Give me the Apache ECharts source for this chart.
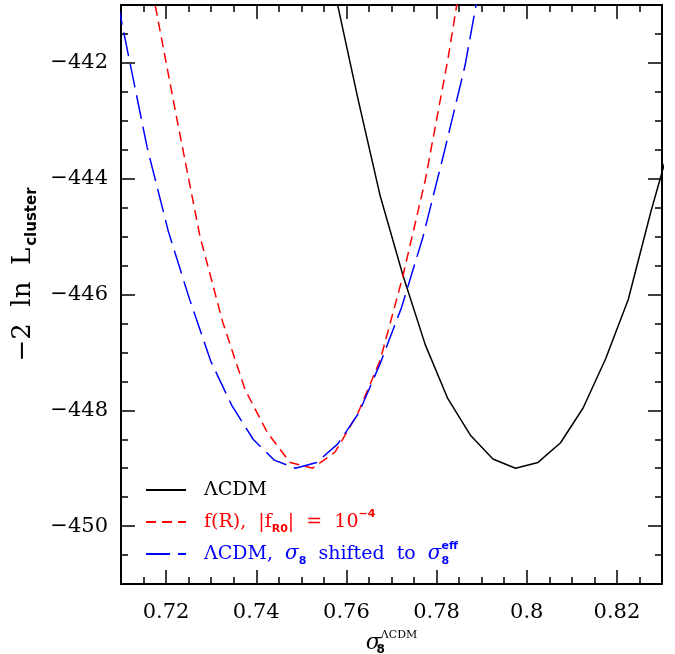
<!DOCTYPE html>
<html><head><meta charset="utf-8">
<script src="https://cdn.jsdelivr.net/npm/echarts@6/dist/echarts.min.js"></script>
<style>html,body{margin:0;padding:0;background:#fff}#c{width:675px;height:654px}</style>
</head><body><div id="c"></div>
<script>
// ---- data ----
const lcdmX = [0.7575, 0.7625, 0.7675, 0.7725, 0.7775, 0.7825, 0.7875, 0.7925, 0.7975, 0.8025, 0.8075, 0.8125, 0.8175, 0.8225, 0.8275, 0.8325];
const lcdmY = [-440.80, -442.60, -444.30, -445.66, -446.87, -447.80, -448.43, -448.84, -449.00, -448.90, -448.56, -447.96, -447.11, -446.09, -444.58, -443.20];

const fRX = [0.7125, 0.7175, 0.7225, 0.7275, 0.7325, 0.7375, 0.7425, 0.7475, 0.7525, 0.7575, 0.7625, 0.7675, 0.7725, 0.7775, 0.7825, 0.7875];
const fRY = [-438.84, -440.97, -443.01, -444.99, -446.46, -447.64, -448.39, -448.90, -449.00, -448.72, -448.06, -447.13, -445.69, -444.02, -441.94, -439.56];

const shiftX = [0.7064, 0.7111, 0.7158, 0.7205, 0.7252, 0.7299, 0.7346, 0.7393, 0.7440, 0.7487, 0.7534, 0.7581, 0.7628, 0.7675, 0.7722, 0.7769, 0.7816, 0.7863, 0.7910];
const shiftY = [-439.85, -441.66, -443.46, -444.91, -446.08, -447.15, -447.92, -448.50, -448.86, -449.00, -448.90, -448.58, -448.04, -447.19, -446.23, -445.03, -443.57, -442.05, -440.04];

const xMajorTicks = [0.72, 0.74, 0.76, 0.78, 0.80, 0.82];
const xTickLabels = ['0.72', '0.74', '0.76', '0.78', '0.8', '0.82'];
const yMajorTicks = [-450, -448, -446, -444, -442];
const yTickLabels = ['\u2212450', '\u2212448', '\u2212446', '\u2212444', '\u2212442'];

const seriesNames = ['lcdm', 'fr', 'shift'];
const legendTexts = {
  lcdm: '{g| }{t|\u039bCDM}',
  fr: '{g| }{t|f(R),  |f}{sub|R0}{t||  =  10}{sup|\u22124}',
  shift: '{g| }{t|\u039bCDM,  }{it|\u03c3}{sub|8}{t|  shifted  to  }{it|\u03c3}{subz|8}{sup|eff}'
};

// ---- chart ----
const serif = 'DejaVu Serif';
const sans = 'DejaVu Sans';
const X0 = 0.71, X1 = 0.83, Y0 = -451, Y1 = -441;

function pick(vals, labels) {
  return function (v) {
    for (let i = 0; i < vals.length; i++) if (Math.abs(vals[i] - v) < 1e-6) return labels[i];
    return '';
  };
}
const tickLine = {color: '#000', width: 1.5};

function majorX(pos, withLabel) {
  return {
    type: 'value', position: pos, min: X0, max: X1,
    axisLine: {show: true, onZero: false, lineStyle: {color: '#000', width: 2}},
    axisTick: {show: true, inside: true, length: 14, customValues: xMajorTicks, lineStyle: tickLine},
    axisLabel: {show: withLabel, customValues: xMajorTicks, margin: 18, fontFamily: serif, fontSize: 21, color: '#000',
      formatter: pick(xMajorTicks, xTickLabels)},
    splitLine: {show: false}
  };
}
function minorX(pos) {
  return {
    type: 'value', position: pos, min: X0, max: X1, interval: 0.005,
    axisLine: {show: false, onZero: false},
    axisTick: {show: true, inside: true, length: 7, lineStyle: tickLine},
    axisLabel: {show: false}, splitLine: {show: false}
  };
}
function majorY(pos, withLabel) {
  return {
    type: 'value', position: pos, min: Y0, max: Y1,
    axisLine: {show: true, onZero: false, lineStyle: {color: '#000', width: 2}},
    axisTick: {show: true, inside: true, length: 14, customValues: yMajorTicks, lineStyle: tickLine},
    axisLabel: {show: withLabel, customValues: yMajorTicks, margin: 13, fontFamily: serif, fontSize: 21, color: '#000',
      formatter: pick(yMajorTicks, yTickLabels)},
    splitLine: {show: false}
  };
}
function minorY(pos) {
  return {
    type: 'value', position: pos, min: Y0, max: Y1, interval: 0.5,
    axisLine: {show: false, onZero: false},
    axisTick: {show: true, inside: true, length: 7, lineStyle: tickLine},
    axisLabel: {show: false}, splitLine: {show: false}
  };
}

const xb = majorX('bottom', true);
xb.name = '{s|\u03c3}{sub|8}{sup|\u039bCDM}';
xb.nameLocation = 'middle';
xb.nameGap = 46;
xb.nameTextStyle = {
  color: '#000',
  rich: {
    s: {fontFamily: serif, fontStyle: 'italic', fontSize: 22, lineHeight: 26},
    sub: {fontFamily: sans, fontWeight: 'bold', fontSize: 12, width: 0, verticalAlign: 'bottom', lineHeight: 10},
    sup: {fontFamily: serif, fontSize: 11, verticalAlign: 'top', lineHeight: 14}
  }
};

const yl = majorY('left', true);
yl.name = '{m|\u22122  ln  L}{sub|cluster}';
yl.nameLocation = 'middle';
yl.nameGap = 79;
yl.nameRotate = 90;
yl.nameTextStyle = {
  color: '#000',
  padding: [0, 0, 0, 40],
  rich: {
    m: {fontFamily: serif, fontSize: 26, lineHeight: 32},
    sub: {fontFamily: sans, fontWeight: 'bold', fontSize: 15, verticalAlign: 'bottom', lineHeight: 18, padding: [0, 0, 0, 2]}
  }
};

const toPairs = (xs, ys) => xs.map((x, i) => [x, ys[i]]);

const option = {
  animation: false,
  backgroundColor: '#fff',
  grid: {left: 121, right: 13, top: 5, bottom: 70, containLabel: false, outerBoundsMode: 'none'},
  xAxis: [xb, minorX('bottom'), majorX('top', false), minorX('top')],
  yAxis: [yl, minorY('left'), majorY('right', false), minorY('right')],
  legend: {
    orient: 'vertical', left: 145, top: 477, padding: 0,
    itemWidth: 40, itemHeight: 14, itemGap: 6,
    itemStyle: {opacity: 0, borderWidth: 0},
    data: [
      {name: 'lcdm', textStyle: {color: '#000'}},
      {name: 'fr', textStyle: {color: '#ff0000'}},
      {name: 'shift', textStyle: {color: '#0000ff'}}
    ],
    formatter: n => legendTexts[n],
    textStyle: {
      fontFamily: serif, fontSize: 19, lineHeight: 26,
      rich: {
        g: {width: 13},
        t: {fontFamily: serif, fontSize: 19, lineHeight: 26},
        it: {fontFamily: serif, fontStyle: 'italic', fontSize: 20, lineHeight: 26},
        sub: {fontFamily: sans, fontWeight: 'bold', fontSize: 11, verticalAlign: 'bottom', lineHeight: 15},
        subz: {fontFamily: sans, fontWeight: 'bold', fontSize: 11, verticalAlign: 'bottom', lineHeight: 15, width: 0},
        sup: {fontFamily: sans, fontWeight: 'bold', fontSize: 11, verticalAlign: 'top', lineHeight: 11}
      }
    }
  },
  series: [
    {name: seriesNames[0], type: 'line', symbol: 'none', showSymbol: false, data: toPairs(lcdmX, lcdmY), clip: true,
      lineStyle: {color: '#000', width: 1.5, type: 'solid'}, itemStyle: {color: '#000'}},
    {name: seriesNames[1], type: 'line', symbol: 'none', showSymbol: false, data: toPairs(fRX, fRY), clip: true,
      lineStyle: {color: '#ff0000', width: 1.5, type: [10, 6]}, itemStyle: {color: '#ff0000'}},
    {name: seriesNames[2], type: 'line', symbol: 'none', showSymbol: false, data: toPairs(shiftX, shiftY), clip: true,
      lineStyle: {color: '#0000ff', width: 1.5, type: [24, 8]}, itemStyle: {color: '#0000ff'}}
  ]
};

const chart = echarts.init(document.getElementById('c'), null, {renderer: 'canvas'});
chart.setOption(option);
</script>
</body></html>
